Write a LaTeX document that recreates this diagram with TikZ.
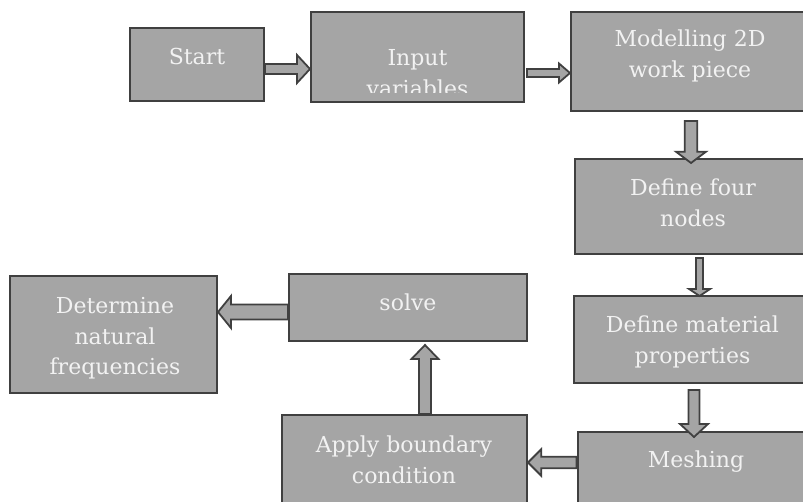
\documentclass[tikz,border=0pt]{standalone}
\usepackage{fontspec}
\setmainfont{DejaVu Serif}
\usetikzlibrary{calc}
\definecolor{boxfill}{HTML}{A5A5A5}
\definecolor{boxstroke}{HTML}{404040}
\definecolor{txtcol}{HTML}{F2F2F2}
\tikzset{
  box/.style={rectangle, fill=boxfill, draw=boxstroke, line width=2pt,
              inner sep=0pt},
  txt/.style={text=txtcol, align=center, inner sep=0pt, anchor=base,
              font=\fontsize{22}{31}\selectfont},
  ba shaft/.store in=\bashaft, ba shaft=5pt,
  ba head/.store in=\bahead,   ba head=14pt,
  ba len/.store in=\balen,     ba len=13pt,
  blockarrow/.style={fill=boxfill, draw=boxstroke, line width=1.8pt,
    line join=miter,
    to path={
      ($(\tikztostart)!\bashaft!90:(\tikztotarget)$)
      -- ($(\tikztotarget)!\balen!(\tikztostart)!\bashaft!-90:(\tikztostart)$)
      -- ($(\tikztotarget)!\balen!(\tikztostart)!\bahead!-90:(\tikztostart)$)
      -- (\tikztotarget)
      -- ($(\tikztotarget)!\balen!(\tikztostart)!\bahead!90:(\tikztostart)$)
      -- ($(\tikztotarget)!\balen!(\tikztostart)!\bashaft!90:(\tikztostart)$)
      -- ($(\tikztostart)!\bashaft!-90:(\tikztotarget)$)
      -- cycle}}
}

\begin{document}
\begin{tikzpicture}[x=1pt, y=-1pt]
  \useasboundingbox (0,0) rectangle (803,502);
  \clip (0,0) rectangle (803,502);

  % ===== Top row =====
  \node[box, minimum width=134pt, minimum height=73pt] (start) at (197,64.5) {};
  \node[txt] (start-t) at (197,65) {Start};

  \node[box, minimum width=213pt, minimum height=90pt] (input) at (417.5,57) {};
  \begin{scope}
    % text box inset cuts the second line
    \clip ([shift={(1pt,10pt)}]input.south west) rectangle ([shift={(-1pt,-1pt)}]input.north east);
    \node[txt] (input-t) at (417.5,97) {Input\\variables};
  \end{scope}

  \node[box, minimum width=238pt, minimum height=99pt] (model) at (690,61.5) {};
  \node[txt] (model-t) at (690,78) {Modelling 2D\\work piece};

  % ===== Right column =====
  \node[box, minimum width=236pt, minimum height=95pt] (four) at (693,206.5) {};
  \node[txt] (four-t) at (693,227) {Define four\\nodes};

  \node[box, minimum width=237pt, minimum height=87pt] (mat) at (692.5,339.5) {};
  \node[txt] (mat-t) at (692.5,363) {Define material\\properties};

  \node[box, minimum width=237pt, minimum height=75pt] (mesh) at (696,469) {};
  \node[txt] (mesh-t) at (696,467) {Meshing};

  % ===== Bottom left =====
  \node[box, minimum width=245.5pt, minimum height=92pt] (apply) at (404.25,461) {};
  \node[txt] (apply-t) at (404,483) {Apply boundary\\condition};

  \node[box, minimum width=238pt, minimum height=67pt] (solve) at (408,307.5) {};
  \node[txt] (solve-t) at (408,311) {solve};

  \node[box, minimum width=207pt, minimum height=117pt] (det) at (113.5,334.5) {};
  \node[txt] (det-t) at (115,375) {Determine\\natural\\frequencies};

  % ===== Block arrows =====
  \draw[blockarrow, ba shaft=5pt, ba head=14pt, ba len=13pt]
    ([yshift=-4.5pt]start.east) to ([yshift=-12pt]input.west);
  \draw[blockarrow, ba shaft=4pt, ba head=9.5pt, ba len=11pt]
    ([shift={(2pt,-16pt)}]input.east) to ([yshift=-11.5pt]model.west);
  \draw[blockarrow, ba shaft=6.3pt, ba head=15pt, ba len=11.3pt]
    ([shift={(121pt,-9pt)}]model.south west) to ([shift={(117pt,-5pt)}]four.north west);
  \draw[blockarrow, ba shaft=3.5pt, ba head=10.5pt, ba len=7pt]
    ([shift={(125.5pt,-3pt)}]four.south west) to ([shift={(126.5pt,-1pt)}]mat.north west);
  \draw[blockarrow, ba shaft=5.5pt, ba head=14pt, ba len=13pt]
    ([shift={(121pt,-6pt)}]mat.south west) to ([shift={(117.5pt,-6.5pt)}]mesh.north west);
  \draw[blockarrow, ba shaft=5.8pt, ba head=13.3pt, ba len=13.3pt]
    ([yshift=6.5pt]mesh.west) to ([yshift=-1.5pt]apply.east);
  \draw[blockarrow, ba shaft=6pt, ba head=13.5pt, ba len=14pt]
    ([xshift=144.5pt]apply.north west) to ([shift={(137pt,-3pt)}]solve.south west);
  \draw[blockarrow, ba shaft=7.5pt, ba head=16pt, ba len=13pt]
    ([yshift=-4.5pt]solve.west) to ([yshift=22.5pt]det.east);

\end{tikzpicture}
\end{document}
